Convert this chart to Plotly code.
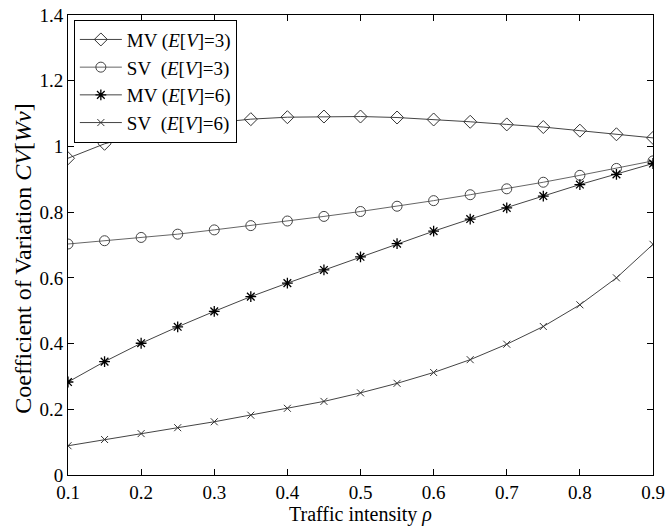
import plotly.graph_objects as go

rho = [0.1, 0.15, 0.2, 0.25, 0.3, 0.35, 0.4, 0.45, 0.5, 0.55, 0.6, 0.65, 0.7, 0.75, 0.8, 0.85, 0.9]
mv_ev3 = [0.964, 1.008, 1.037, 1.059, 1.072, 1.083, 1.089, 1.091, 1.091, 1.088, 1.082, 1.075, 1.067, 1.059, 1.048, 1.037, 1.026]
sv_ev3 = [0.703, 0.713, 0.723, 0.733, 0.746, 0.759, 0.773, 0.787, 0.802, 0.818, 0.835, 0.853, 0.871, 0.891, 0.912, 0.933, 0.956]
mv_ev6 = [0.283, 0.345, 0.401, 0.451, 0.498, 0.543, 0.584, 0.624, 0.664, 0.704, 0.742, 0.779, 0.813, 0.849, 0.884, 0.915, 0.948]
sv_ev6 = [0.089, 0.108, 0.126, 0.144, 0.162, 0.182, 0.203, 0.224, 0.250, 0.279, 0.312, 0.351, 0.398, 0.452, 0.518, 0.600, 0.702]

series_names = [
    "MV (<i>E</i>[<i>V</i>]=3)",
    "SV\u00a0 (<i>E</i>[<i>V</i>]=3)",
    "MV (<i>E</i>[<i>V</i>]=6)",
    "SV\u00a0 (<i>E</i>[<i>V</i>]=6)",
]

x_ticks = [0.1, 0.2, 0.3, 0.4, 0.5, 0.6, 0.7, 0.8, 0.9]
x_ticklabels = ["0.1", "0.2", "0.3", "0.4", "0.5", "0.6", "0.7", "0.8", "0.9"]
y_ticks = [0, 0.2, 0.4, 0.6, 0.8, 1.0, 1.2, 1.4]
y_ticklabels = ["0", "0.2", "0.4", "0.6", "0.8", "1", "1.2", "1.4"]

x_title = "Traffic intensity <i>ρ</i>"
y_title = "Coefficient of Variation <i>CV</i>[<i>Wv</i>]"

FONT = "Liberation Serif, Times New Roman, serif"

styles = [
    dict(line=dict(color="#444444", width=1), marker=dict(symbol="diamond-open", size=10, color="#333333", line=dict(width=1))),
    dict(line=dict(color="#666666", width=1), marker=dict(symbol="circle-open", size=10, color="#444444", line=dict(width=1))),
    dict(line=dict(color="#444444", width=1), marker=dict(symbol="asterisk-open", size=9, color="#000000", line=dict(width=1.3))),
    dict(line=dict(color="#444444", width=1), marker=dict(symbol="x-thin-open", size=7, color="#333333", line=dict(width=1))),
]

fig = go.Figure()
for name, ys, st in zip(series_names, [mv_ev3, sv_ev3, mv_ev6, sv_ev6], styles):
    fig.add_trace(go.Scatter(x=rho, y=ys, mode="lines+markers", name=name, **st))

fig.update_layout(
    width=670, height=530,
    margin=dict(l=68, r=17, t=15, b=55, autoexpand=False),
    paper_bgcolor="white", plot_bgcolor="white",
    font=dict(family=FONT, size=19, color="black"),
    showlegend=True,
    legend=dict(x=0.01, y=0.99, xanchor="left", yanchor="top",
                bordercolor="black", borderwidth=1, bgcolor="white",
                font=dict(family=FONT, size=19), tracegroupgap=0, itemwidth=42),
)
fig.update_xaxes(
    range=[0.1, 0.9], tickvals=x_ticks, ticktext=x_ticklabels,
    tickfont=dict(family=FONT, size=19), ticklabeloverflow="allow",
    ticks="inside", ticklen=6, tickcolor="black", showline=True, linecolor="black",
    linewidth=1, mirror="ticks", showgrid=False, zeroline=False, automargin=False,
    title=dict(text=x_title, font=dict(family=FONT, size=20), standoff=0),
)
fig.update_yaxes(
    range=[0, 1.4], tickvals=y_ticks, ticktext=y_ticklabels,
    tickfont=dict(family=FONT, size=19), ticklabeloverflow="allow",
    ticks="inside", ticklen=6, tickcolor="black", showline=True, linecolor="black",
    linewidth=1, mirror="ticks", showgrid=False, zeroline=False, automargin=False,
)
fig.add_annotation(
    text=y_title, xref="paper", yref="paper", x=-0.077, y=0.47,
    xanchor="center", yanchor="middle", textangle=-90, showarrow=False,
    font=dict(family=FONT, size=24),
)

fig.write_html("out.html", config={"displayModeBar": False},
               post_script="document.body.style.margin='0';")
